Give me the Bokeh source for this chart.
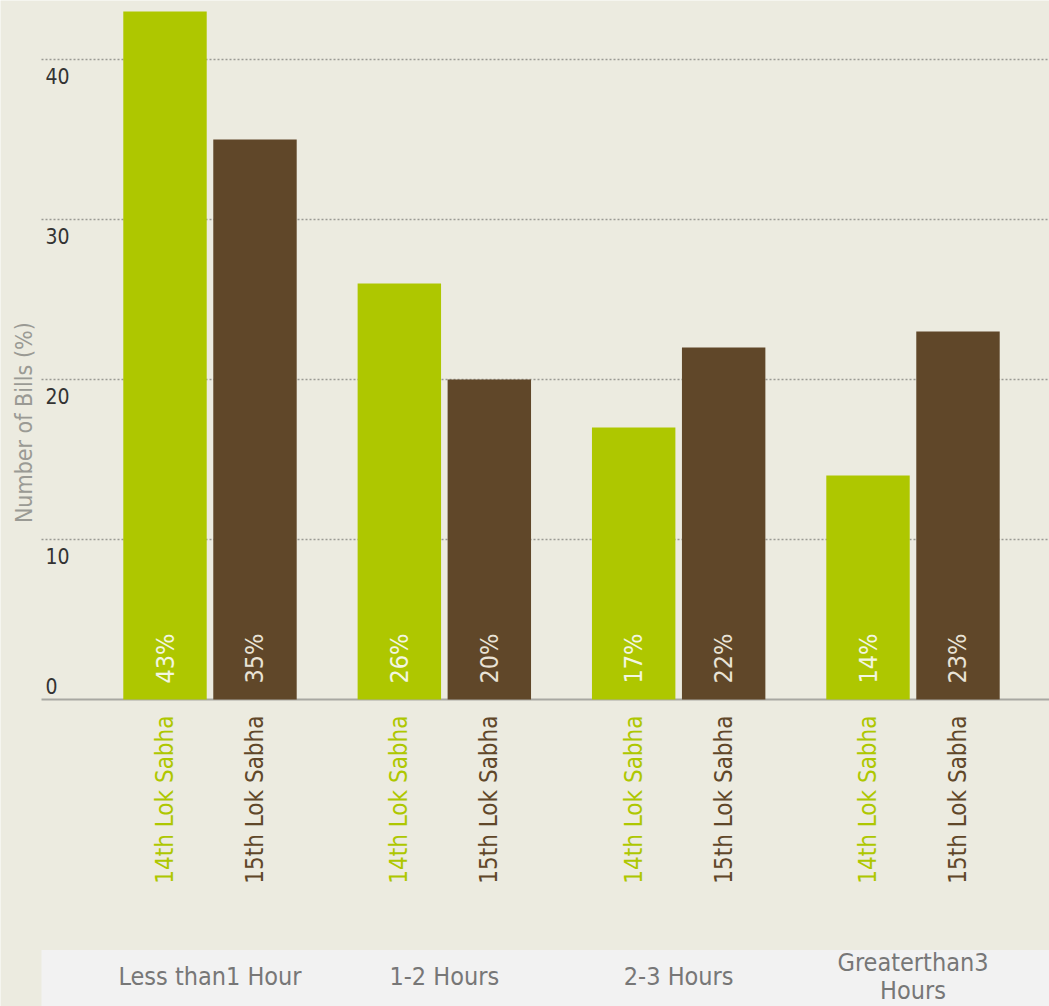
import math

from bokeh.core.properties import value
from bokeh.embed import file_html
from bokeh.models import ColumnDataSource, Range1d
from bokeh.plotting import figure
from bokeh.resources import INLINE

# ---- data -------------------------------------------------------------
categories = ["Less than1 Hour", "1-2 Hours", "2-3 Hours", "Greaterthan3\nHours"]
series = ["14th Lok Sabha", "15th Lok Sabha"]
lok14 = [43, 26, 17, 14]
lok15 = [35, 20, 22, 23]
y_ticks = [0, 10, 20, 30, 40]
y_title = "Number of Bills (%)"

# ---- styling ----------------------------------------------------------
BG = "#ecebe0"
STRIP = "#f2f2f2"
GREEN = "#aec700"
BROWN = "#604729"
GREEN_TXT = "#f3f6e2"
BROWN_TXT = "#e9e3d6"
FONT = value("Liberation Sans Narrow, DejaVu Sans Condensed, Roboto Condensed, Liberation Sans")

W, H = 1049, 1006
X0, X1 = -0.894, 3.5825        # horizontal data range
Y0, Y1 = -19.1875, 43.6875      # vertical data range (below zero holds labels)
AXIS_X = -0.719                 # left edge of the plotting area
STRIP_TOP = -15.66              # top of the category band
BAR_W = 0.356
OFFSET = 0.192

p = figure(
    width=W, height=H,
    x_range=Range1d(X0, X1), y_range=Range1d(Y0, Y1),
    x_axis_location=None, y_axis_location=None,
    toolbar_location=None, output_backend="svg",
    min_border=0, outline_line_color=None,
    background_fill_color=BG, border_fill_color=BG,
)
p.grid.visible = False

# category band at the bottom
p.quad(left=[AXIS_X], right=[X1], bottom=[Y0], top=[STRIP_TOP],
       fill_color=STRIP, line_color=None)

# dotted gridlines and solid baseline
grid_ticks = [t for t in y_ticks if t > 0]
p.segment(x0=[AXIS_X] * len(grid_ticks), x1=[X1] * len(grid_ticks),
          y0=grid_ticks, y1=grid_ticks,
          line_color="#9a9a94", line_width=1.5, line_dash="2 2")
p.segment(x0=[AXIS_X], x1=[X1], y0=[0], y1=[0],
          line_color="#a8a8a2", line_width=2)

# bars
idx = list(range(len(categories)))
x14 = [i - OFFSET for i in idx]
x15 = [i + OFFSET for i in idx]
src14 = ColumnDataSource(dict(x=x14, top=lok14,
                              lab=[f"{v}%" for v in lok14],
                              name=[series[0]] * len(idx)))
src15 = ColumnDataSource(dict(x=x15, top=lok15,
                              lab=[f"{v}%" for v in lok15],
                              name=[series[1]] * len(idx)))
p.vbar(x="x", top="top", bottom=0, width=BAR_W, source=src14,
       fill_color=GREEN, line_color=None)
p.vbar(x="x", top="top", bottom=0, width=BAR_W, source=src15,
       fill_color=BROWN, line_color=None)

# value labels inside the bars
for src, col in ((src14, GREEN_TXT), (src15, BROWN_TXT)):
    p.text(x="x", y=1.0, text="lab", source=src, angle=math.pi / 2,
           text_align="left", text_baseline="middle",
           text_font=FONT, text_font_size="25px", text_color=col)

# series labels under each bar
for src, col in ((src14, GREEN), (src15, BROWN)):
    p.text(x="x", y=-1.0, text="name", source=src, angle=math.pi / 2,
           text_align="right", text_baseline="middle",
           text_font=FONT, text_font_size="24px", text_color=col)

# category names in the band
p.text(x=idx, y=[-17.3] * len(idx), text=categories,
       text_align="center", text_baseline="middle",
       text_font=FONT, text_font_size="25px", text_color="#777777",
       text_line_height=0.95)

# y tick labels inside the plot area
tick_y = [t - 1.0 if t > 0 else t + 0.85 for t in y_ticks]
p.text(x=[AXIS_X + 0.017] * len(y_ticks), y=tick_y,
       text=[str(t) for t in y_ticks],
       text_align="left", text_baseline="middle",
       text_font=FONT, text_font_size="21px", text_color="#333333")

# y axis title
p.text(x=[-0.792], y=[17.3], text=[y_title], angle=math.pi / 2,
       text_align="center", text_baseline="middle",
       text_font=FONT, text_font_size="23px", text_color="#9a9a94")

open("out.html", "w").write(file_html(p, INLINE))
